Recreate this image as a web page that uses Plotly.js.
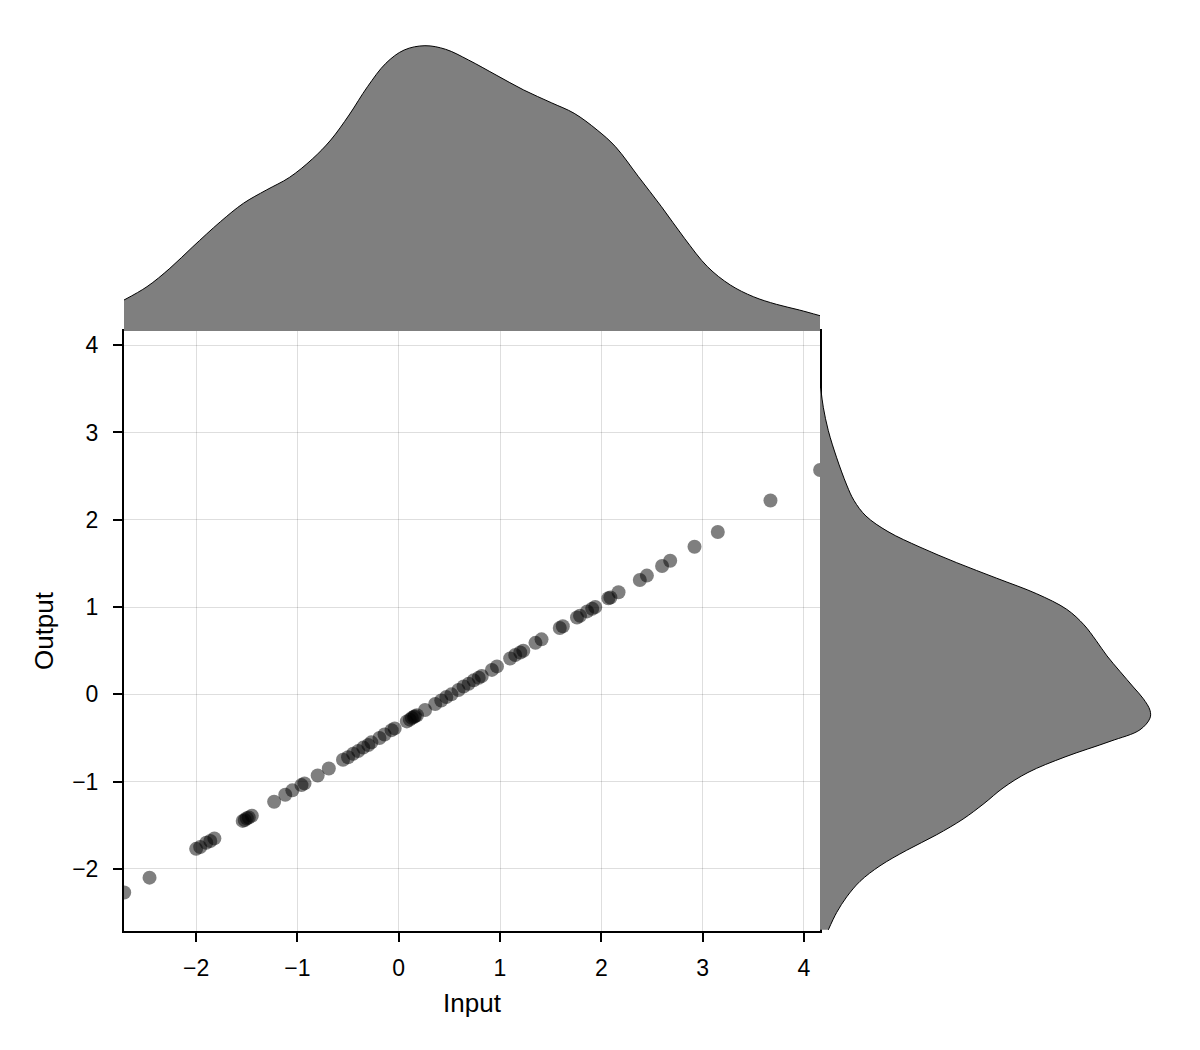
<!DOCTYPE html>
<html>
<head>
<meta charset="utf-8">
<script src="https://cdn.plot.ly/plotly-3.0.1.min.js"></script>
<style>html,body{margin:0;padding:0;background:#fff;}#chart{width:1200px;height:1050px;}</style>
</head>
<body>
<div id="chart"></div>
<script>
// Scatter data (Input vs Output)
const inputValues = [
  -2.71, -2.46, -2.00, -1.96, -1.90, -1.86, -1.82, -1.54, -1.52, -1.50, -1.48, -1.45,
  -1.23, -1.12, -1.05, -0.96, -0.93, -0.80, -0.69, -0.55, -0.50, -0.45, -0.40, -0.35,
  -0.30, -0.27, -0.19, -0.14, -0.07, -0.04, 0.08, 0.11, 0.13, 0.15, 0.16, 0.18,
  0.26, 0.36, 0.42, 0.47, 0.52, 0.59, 0.64, 0.69, 0.74, 0.79, 0.82, 0.92, 0.97,
  1.10, 1.15, 1.20, 1.23, 1.35, 1.41, 1.59, 1.62, 1.76, 1.79, 1.86, 1.91, 1.94,
  2.07, 2.09, 2.17, 2.38, 2.45, 2.60, 2.68, 2.92, 3.15, 3.67, 4.16
];
const outputValues = [
  -2.27, -2.10, -1.77, -1.75, -1.70, -1.68, -1.65, -1.45, -1.44, -1.42, -1.41, -1.39,
  -1.23, -1.15, -1.10, -1.04, -1.02, -0.93, -0.85, -0.75, -0.72, -0.68, -0.65, -0.61,
  -0.58, -0.55, -0.50, -0.46, -0.41, -0.39, -0.31, -0.29, -0.27, -0.26, -0.25, -0.24,
  -0.18, -0.11, -0.07, -0.03, 0.00, 0.05, 0.09, 0.12, 0.16, 0.19, 0.21, 0.28, 0.32,
  0.41, 0.45, 0.48, 0.50, 0.59, 0.63, 0.76, 0.78, 0.88, 0.90, 0.95, 0.98, 1.00,
  1.10, 1.11, 1.17, 1.31, 1.36, 1.47, 1.53, 1.69, 1.86, 2.22, 2.57
];

// Marginal density of Input (top panel)
const topDensityX = [
  -2.712, -2.485, -2.259, -2.032, -1.760, -1.533, -1.306, -1.080, -0.853, -0.671,
  -0.490, -0.308, -0.127, 0.054, 0.259, 0.463, 0.689, 0.961, 1.234, 1.506,
  1.732, 1.959, 2.140, 2.367, 2.594, 2.821, 3.048, 3.274, 3.501, 3.728, 3.955, 4.159
];
const topDensityY = [
  0.0310, 0.0443, 0.0627, 0.0843, 0.1093, 0.1277, 0.1410, 0.1535, 0.1720, 0.1910,
  0.2160, 0.2443, 0.2677, 0.2810, 0.2853, 0.2817, 0.2710, 0.2560, 0.2410, 0.2283,
  0.2177, 0.2010, 0.1843, 0.1543, 0.1243, 0.0927, 0.0643, 0.0460, 0.0343, 0.0267, 0.0210, 0.0153
];

// Marginal density of Output (right panel)
const rightDensityY = [
  3.510, 3.288, 3.021, 2.709, 2.398, 2.220, 2.042, 1.864, 1.686, 1.508,
  1.330, 1.152, 0.974, 0.796, 0.618, 0.440, 0.262, 0.084, -0.050, -0.183,
  -0.272, -0.406, -0.539, -0.717, -0.895, -1.073, -1.251, -1.429, -1.608, -1.786,
  -1.964, -2.142, -2.320, -2.498, -2.698
];
const rightDensityX = [
  0.0007, 0.0033, 0.0083, 0.0167, 0.0267, 0.0340, 0.0460, 0.0680, 0.1000, 0.1367,
  0.1767, 0.2167, 0.2467, 0.2640, 0.2760, 0.2870, 0.3000, 0.3133, 0.3233, 0.3300,
  0.3300, 0.3200, 0.2900, 0.2450, 0.2080, 0.1830, 0.1640, 0.1430, 0.1167, 0.0867,
  0.0600, 0.0400, 0.0267, 0.0167, 0.0083
];

const xTickValues = [-2, -1, 0, 1, 2, 3, 4];
const yTickValues = [-2, -1, 0, 1, 2, 3, 4];
const xLimits = [-2.712, 4.159];
const yLimits = [-2.711, 4.162];

const W = 1200, H = 1050;
const px = v => v / W;
const py = v => (H - v) / H;

const fontFam = '"Liberation Sans", Arial, Helvetica, sans-serif';
const densityFill = '#7f7f7f';

const traces = [
  {
    type: 'scatter', mode: 'markers', x: inputValues, y: outputValues,
    xaxis: 'x', yaxis: 'y',
    marker: { size: 14, color: 'rgba(0,0,0,0.5)', line: { width: 0 } },
    hoverinfo: 'skip', showlegend: false
  },
  {
    type: 'scatter', mode: 'lines', x: topDensityX, y: topDensityY,
    xaxis: 'x2', yaxis: 'y2', fill: 'tozeroy', fillcolor: densityFill,
    line: { color: 'black', width: 1, shape: 'spline', smoothing: 1 },
    hoverinfo: 'skip', showlegend: false
  },
  {
    type: 'scatter', mode: 'lines', x: rightDensityX, y: rightDensityY,
    xaxis: 'x3', yaxis: 'y3', fill: 'tozerox', fillcolor: densityFill,
    line: { color: 'black', width: 1, shape: 'spline', smoothing: 1 },
    hoverinfo: 'skip', showlegend: false
  }
];

const mainAxis = {
  showline: true, linecolor: 'black', linewidth: 2, mirror: true,
  showgrid: true, gridcolor: 'rgba(0,0,0,0.13)', gridwidth: 1,
  zeroline: false, ticks: 'outside', ticklen: 9, tickwidth: 2, tickcolor: 'black',
  tickfont: { family: fontFam, size: 23, color: 'black' },
  tickmode: 'array'
};
const minusLabel = v => v < 0 ? '\u2212' + Math.abs(v) : String(v);

const layout = {
  width: W, height: H,
  margin: { l: 0, r: 0, t: 0, b: 0 },
  paper_bgcolor: 'white', plot_bgcolor: 'rgba(0,0,0,0)',
  font: { family: fontFam, color: 'black' },
  showlegend: false,
  xaxis: Object.assign({}, mainAxis, {
    domain: [px(124), px(820)], range: xLimits, anchor: 'y',
    tickvals: xTickValues, ticktext: xTickValues.map(minusLabel),
    ticklabelstandoff: 6,
    title: { text: 'Input', font: { family: fontFam, size: 26, color: 'black' }, standoff: 14 }
  }),
  yaxis: Object.assign({}, mainAxis, {
    domain: [py(931), py(331)], range: yLimits, anchor: 'x',
    tickvals: yTickValues, ticktext: yTickValues.map(minusLabel),
    ticklabelstandoff: 10,
    title: { text: 'Output', font: { family: fontFam, size: 26, color: 'black' }, standoff: 11 }
  }),
  xaxis2: { domain: [px(124), px(820)], range: xLimits, anchor: 'y2', visible: false, fixedrange: true },
  yaxis2: { domain: [py(331), py(331 - 287)], range: [0, 0.287], anchor: 'x2', visible: false, fixedrange: true },
  xaxis3: { domain: [px(820), px(820 + 332)], range: [0, 0.332], anchor: 'y3', visible: false, fixedrange: true },
  yaxis3: { domain: [py(931), py(331)], range: yLimits, anchor: 'x3', visible: false, fixedrange: true }
};

Plotly.newPlot('chart', traces, layout, { staticPlot: true, displayModeBar: false });
</script>
</body>
</html>
